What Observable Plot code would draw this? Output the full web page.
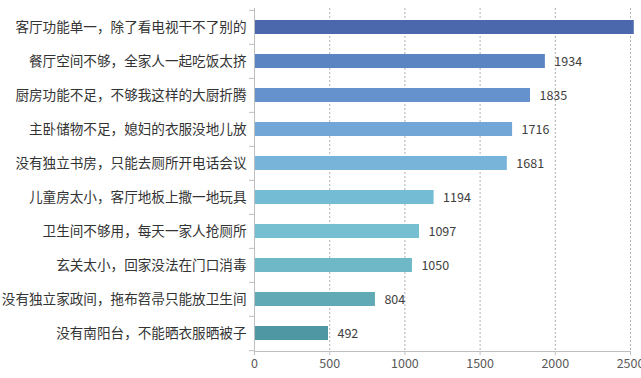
<!DOCTYPE html>
<html>
<head>
<meta charset="utf-8">
<script src="https://cdn.jsdelivr.net/npm/d3@7"></script>
<script src="https://cdn.jsdelivr.net/npm/@observablehq/plot@0.6"></script>
<style>
  html, body { margin: 0; padding: 0; background: #fff; }
  #chart svg { display: block; }
</style>
</head>
<body>
<div id="chart"></div>
<script>
const categories = [
  "客厅功能单一，除了看电视干不了别的",
  "餐厅空间不够，全家人一起吃饭太挤",
  "厨房功能不足，不够我这样的大厨折腾",
  "主卧储物不足，媳妇的衣服没地儿放",
  "没有独立书房，只能去厕所开电话会议",
  "儿童房太小，客厅地板上撒一地玩具",
  "卫生间不够用，每天一家人抢厕所",
  "玄关太小，回家没法在门口消毒",
  "没有独立家政间，拖布笤帚只能放卫生间",
  "没有南阳台，不能晒衣服晒被子"
];
const values = [2525, 1934, 1835, 1716, 1681, 1194, 1097, 1050, 804, 492];
const colors = ["#4a68ab", "#5a84c2", "#6591cd", "#72a6d7", "#78b3da", "#74bcd4", "#76bfd0", "#6fb8c7", "#60a9b5", "#4f97a2"];
const xTicks = [0, 500, 1000, 1500, 2000, 2500];

const data = categories.map((c, i) => ({cat: c, value: values[i], color: colors[i]}));

const W = 641, H = 378;
const mTop = 8, mBottom = 27, mLeft = 254, mRight = 11;
const step = (H - mTop - mBottom) / categories.length;
const unitsPerPx = 2500 / (W - mLeft - mRight);
const font = "'Noto Sans CJK SC', 'Noto Sans', sans-serif";

const chart = Plot.plot({
  width: W,
  height: H,
  marginTop: mTop,
  marginBottom: mBottom,
  marginLeft: mLeft,
  marginRight: mRight,
  style: {fontFamily: font, background: "#fff"},
  x: {domain: [0, 2500]},
  y: {domain: categories, paddingInner: 0.59, paddingOuter: 0.295},
  marks: [
    Plot.gridX(xTicks.filter(d => d > 0), {stroke: "#b0b0b0", strokeOpacity: 1, strokeDasharray: "2,2"}),
    Plot.barX(data, {y: "cat", x: "value", fill: "color"}),
    // the label of the bar that runs past the frame falls outside the picture, as in the reference
    Plot.text(data.filter(d => d.value <= 2500), {y: "cat", x: "value", text: d => String(d.value), textAnchor: "start", dx: 9, fill: "#404040", fontSize: 12.5}),
    // category tick marks between bars
    Plot.ruleY(data, {y: "cat", x1: -5 * unitsPerPx, x2: 0, dy: -step / 2, stroke: "#bfbfbf"}),
    Plot.ruleY(data.slice(-1), {y: "cat", x1: -5 * unitsPerPx, x2: 0, dy: step / 2, stroke: "#bfbfbf"}),
    Plot.ruleX([0], {stroke: "#bfbfbf"}),
    Plot.frame({anchor: "bottom", stroke: "#bfbfbf"}),
    Plot.axisX({ticks: xTicks, tickSize: 4, stroke: "#bfbfbf", tickPadding: 4, fill: "#595959", fontSize: 12.5, tickFormat: d => String(d), label: null}),
    Plot.axisY({tickSize: 0, tickPadding: 8, fill: "#333", fontSize: 13.6, label: null})
  ]
});
document.getElementById("chart").appendChild(chart);
</script>
</body>
</html>
